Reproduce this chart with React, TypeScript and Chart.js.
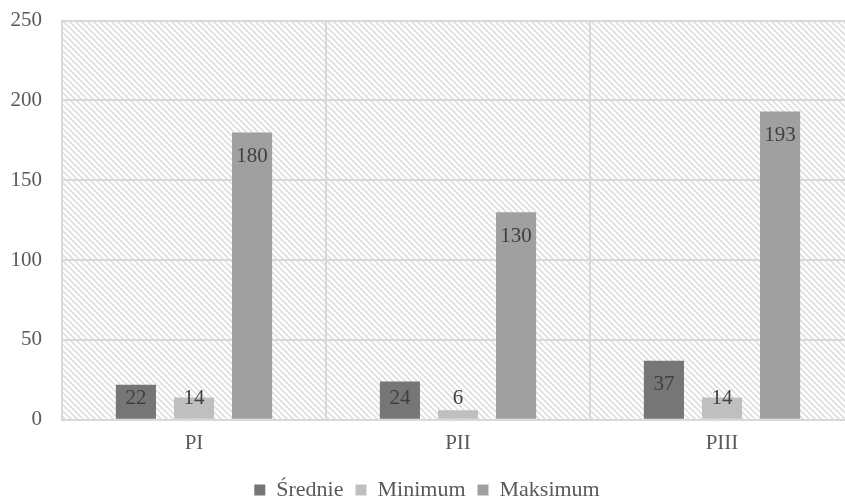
import React, { useEffect, useRef } from "react";
import { Chart, registerables } from "chart.js";

Chart.register(...registerables);

const categories = ["PI", "PII", "PIII"];
const seriesNames = ["Średnie", "Minimum", "Maksimum"];
const srednie = [22, 24, 37];
const minimum = [14, 6, 14];
const maksimum = [180, 130, 193];
const yTicks = [0, 50, 100, 150, 200, 250];

const colors = ["#767676", "#bfbfbf", "#a0a0a0"];
const FONT = "'Liberation Serif', 'Times New Roman', serif";

function makePattern(): CanvasPattern | string {
  const c = document.createElement("canvas");
  const s = 6;
  c.width = s;
  c.height = s;
  const ctx = c.getContext("2d");
  if (!ctx) return "#fff";
  ctx.fillStyle = "#ffffff";
  ctx.fillRect(0, 0, s, s);
  ctx.strokeStyle = "#dedede";
  ctx.lineWidth = 1.6;
  ctx.beginPath();
  ctx.moveTo(-1, -1);
  ctx.lineTo(s + 1, s + 1);
  ctx.moveTo(-1 - s, -1);
  ctx.lineTo(1, s + 1);
  ctx.moveTo(s - 1, -1);
  ctx.lineTo(2 * s + 1, s + 1);
  ctx.stroke();
  const p = ctx.createPattern(c, "repeat");
  return p || "#fff";
}

const hatchPlugin = {
  id: "hatchBg",
  beforeDraw(chart: any) {
    const { ctx, chartArea } = chart;
    ctx.save();
    ctx.fillStyle = makePattern();
    ctx.fillRect(chartArea.left, chartArea.top, chartArea.right - chartArea.left, chartArea.bottom - chartArea.top);
    ctx.restore();
  },
};

const labelPlugin = {
  id: "barLabels",
  afterDatasetsDraw(chart: any) {
    const { ctx, chartArea } = chart;
    ctx.save();
    ctx.font = `21px ${FONT}`;
    ctx.fillStyle = "#404040";
    ctx.textAlign = "center";
    ctx.textBaseline = "middle";
    chart.data.datasets.forEach((ds: any, i: number) => {
      const meta = chart.getDatasetMeta(i);
      meta.data.forEach((bar: any, j: number) => {
        const y = Math.min(bar.y + 24, chartArea.bottom - 21);
        ctx.fillText(String(ds.data[j]), bar.x, y);
      });
    });
    ctx.restore();
  },
};

export default function App() {
  const ref = useRef<HTMLCanvasElement>(null);
  useEffect(() => {
    if (!ref.current) return;
    const chart = new Chart(ref.current, {
      type: "bar",
      data: {
        labels: categories,
        datasets: [srednie, minimum, maksimum].map((d, i) => ({
          label: seriesNames[i],
          data: d,
          backgroundColor: colors[i],
          borderWidth: 0,
          barPercentage: 0.69,
          categoryPercentage: 0.66,
        })),
      },
      options: {
        animation: false,
        responsive: false,
        devicePixelRatio: 1,
        layout: { padding: { left: 0, right: 16, top: 0, bottom: 0 } },
        plugins: {
          legend: {
            position: "bottom",
            labels: {
              boxWidth: 11,
              boxHeight: 11,
              padding: 12,
              color: "#595959",
              font: { family: FONT, size: 22 },
            },
          },
          tooltip: { enabled: false },
        },
        scales: {
          x: {
            grid: { color: "#d9d9d9", lineWidth: 2, drawTicks: false },
            border: { color: "#d9d9d9", width: 2 },
            ticks: { color: "#595959", font: { family: FONT, size: 21 }, padding: 11 },
          },
          y: {
            min: 0,
            max: 250,
            afterFit(scale: any) {
              scale.width = 62;
            },
            afterBuildTicks(scale: any) {
              scale.ticks = yTicks.map((v) => ({ value: v }));
            },
            grid: { color: "#d9d9d9", lineWidth: 2, drawTicks: false },
            border: { color: "#d9d9d9", width: 2 },
            ticks: { color: "#595959", font: { family: FONT, size: 21 }, padding: 20 },
          },
        },
      },
      plugins: [hatchPlugin, labelPlugin],
    });
    return () => chart.destroy();
  }, []);
  return (
    <div style={{ position: "fixed", left: 0, top: 0, width: 845, height: 498, overflow: "hidden", background: "#fff" }}>
      <canvas ref={ref} width={870} height={523} style={{ display: "block", marginTop: -12 }} />
    </div>
  );
}
